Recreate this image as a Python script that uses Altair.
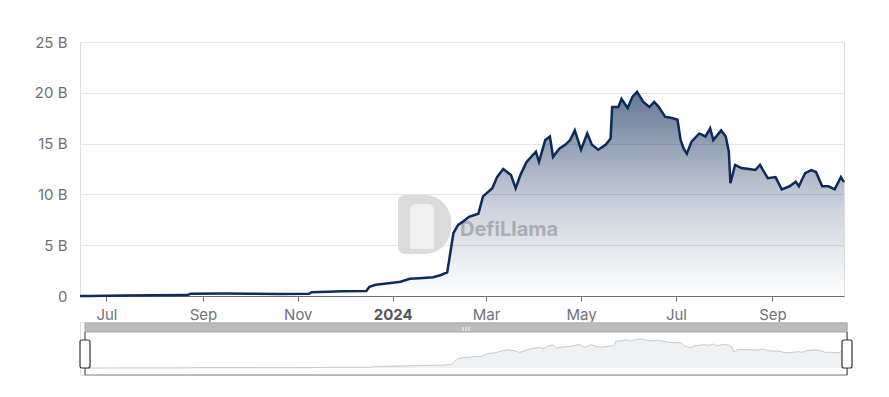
import altair as alt
import pandas as pd

# ---- data (TVL in billions USD) ----
dates = [
    "2023-06-14", "2023-06-20", "2023-07-01", "2023-07-13", "2023-08-01", "2023-08-22",
    "2023-08-24", "2023-09-15", "2023-10-01", "2023-10-20", "2023-11-08", "2023-11-10",
    "2023-11-30", "2023-12-15", "2023-12-17", "2023-12-21", "2024-01-01", "2024-01-06",
    "2024-01-12", "2024-01-18", "2024-01-27", "2024-02-01", "2024-02-05", "2024-02-09",
    "2024-02-12", "2024-02-15", "2024-02-19", "2024-02-22", "2024-02-25", "2024-02-28",
    "2024-03-05", "2024-03-08", "2024-03-12", "2024-03-17", "2024-03-20", "2024-03-23",
    "2024-03-27", "2024-04-02", "2024-04-04", "2024-04-08", "2024-04-11", "2024-04-13",
    "2024-04-17", "2024-04-21", "2024-04-24", "2024-04-27", "2024-05-01", "2024-05-05",
    "2024-05-08", "2024-05-12", "2024-05-17", "2024-05-20", "2024-05-21", "2024-05-25",
    "2024-05-27", "2024-05-31", "2024-06-03", "2024-06-06", "2024-06-10", "2024-06-14",
    "2024-06-17", "2024-06-20", "2024-06-24", "2024-06-29", "2024-07-02", "2024-07-04",
    "2024-07-06", "2024-07-08", "2024-07-11", "2024-07-16", "2024-07-20", "2024-07-23",
    "2024-07-25", "2024-07-30", "2024-08-02", "2024-08-04", "2024-08-05", "2024-08-08",
    "2024-08-12", "2024-08-17", "2024-08-21", "2024-08-24", "2024-08-29", "2024-09-03",
    "2024-09-07", "2024-09-12", "2024-09-16", "2024-09-18", "2024-09-22", "2024-09-26",
    "2024-09-29", "2024-10-03", "2024-10-07", "2024-10-11", "2024-10-13", "2024-10-15",
    "2024-10-17",
]
tvl_b = [
    0.0, 0.01, 0.02, 0.05, 0.07, 0.09,
    0.22, 0.24, 0.22, 0.19, 0.21, 0.38,
    0.46, 0.5, 0.9, 1.1, 1.3, 1.4,
    1.7, 1.75, 1.85, 2.07, 2.33, 6.2,
    7.0, 7.3, 7.8, 7.95, 8.1, 9.8,
    10.6, 11.7, 12.5, 11.9, 10.6, 11.9,
    13.2, 14.2, 13.2, 15.35, 15.7, 13.7,
    14.5, 14.9, 15.35, 16.3, 14.4, 16.0,
    14.9, 14.4, 14.9, 15.5, 18.6, 18.6,
    19.4, 18.5, 19.6, 20.1, 19.1, 18.6,
    19.1, 18.6, 17.65, 17.5, 17.35, 15.35,
    14.5, 14.0, 15.2, 16.0, 15.7, 16.5,
    15.35, 16.3, 15.7, 14.2, 11.1, 12.9,
    12.6, 12.5, 12.4, 12.9, 11.6, 11.7,
    10.5, 10.8, 11.25, 10.8, 12.1, 12.4,
    12.2, 10.8, 10.8, 10.5, 11.1, 11.7,
    11.2,
]
y_ticks = [0, 5, 10, 15, 20, 25]
x_tick_dates = [(2023, 7), (2023, 9), (2023, 11), (2024, 1), (2024, 3), (2024, 5), (2024, 7), (2024, 9)]

df = pd.DataFrame({"date": dates, "tvl": tvl_b})
ends = pd.DataFrame({"date": [dates[0], dates[-1]]})
span = pd.DataFrame({"start": [dates[0]], "end": [dates[-1]]})

x_domain = [alt.DateTime(year=2023, month=6, date=14, utc=True),
            alt.DateTime(year=2024, month=10, date=17, utc=True)]
x_values = [alt.DateTime(year=y, month=m, date=1, utc=True) for y, m in x_tick_dates]

FONT = "Inter"
LABEL_COLOR = "#6e7079"

W, H = 764, 254

x_main = alt.X(
    "date:T",
    scale=alt.Scale(type="utc", domain=x_domain),
    axis=alt.Axis(
        values=x_values,
        labelExpr="utcmonth(datum.value) == 0 ? utcFormat(datum.value, '%Y') : utcFormat(datum.value, '%b')",
        labelFontWeight={"condition": {"test": "utcmonth(datum.value) == 0", "value": "bold"}, "value": "normal"},
        labelColor={"condition": {"test": "utcmonth(datum.value) == 0", "value": "#555555"}, "value": LABEL_COLOR},
        labelFont=FONT,
        labelFontSize=15,
        labelPadding=6,
        tickSize=5,
        tickColor=LABEL_COLOR,
        domainColor=LABEL_COLOR,
        grid=False,
        title=None,
    ),
)
y_main = alt.Y(
    "tvl:Q",
    scale=alt.Scale(domain=[0, 25]),
    axis=alt.Axis(
        values=y_ticks,
        labelExpr="datum.value == 0 ? '0' : datum.value + ' B'",
        labelFont=FONT,
        labelFontSize=15,
        labelColor=LABEL_COLOR,
        labelPadding=13,
        domain=False,
        ticks=False,
        gridColor="#e0e6f1",
        gridWidth=1,
        title=None,
    ),
)

gradient = alt.Gradient(
    gradient="linear",
    stops=[alt.GradientStop(color="rgba(13,42,87,0.64)", offset=0),
           alt.GradientStop(color="rgba(13,42,87,0.22)", offset=0.55),
           alt.GradientStop(color="rgba(13,42,87,0.0)", offset=1)],
    x1=1, x2=1, y1=0, y2=1,
)

base = alt.Chart(df)

wm_logo = alt.Chart(span).mark_rect(
    color="#d5d5d5", opacity=0.85,
    cornerRadiusTopLeft=7, cornerRadiusBottomLeft=7,
    cornerRadiusTopRight=28, cornerRadiusBottomRight=28,
).encode(x=alt.value(318), x2=alt.value(371), y=alt.value(153), y2=alt.value(212))
wm_llama = alt.Chart(span).mark_rect(
    color="#f2f2f2", opacity=0.9, cornerRadiusTopLeft=6, cornerRadiusTopRight=6,
).encode(x=alt.value(330), x2=alt.value(354), y=alt.value(162), y2=alt.value(207))
wm_text = alt.Chart(span).mark_text(
    text="DefiLlama", font=FONT, fontSize=20, fontWeight="bold",
    color="#c6c6c6", align="left", baseline="alphabetic",
).encode(x=alt.value(380), y=alt.value(194))

area = base.mark_area(color=gradient, interpolate="linear").encode(x=x_main, y=y_main)
line = base.mark_line(color="#0c2a5a", strokeWidth=2.5, interpolate="linear").encode(x=x_main, y=y_main)

main = alt.layer(wm_logo, wm_llama, wm_text, area, line).properties(width=W, height=H)

# ---- slider (data zoom) ----
SW, SH = 767, 53
x_sl = alt.X("date:T", scale=alt.Scale(type="utc", domain=x_domain, range=[5, 767]), axis=None)
x_sl_start = alt.X("start:T", scale=alt.Scale(type="utc", domain=x_domain, range=[5, 767]), axis=None)

sl_bar = alt.Chart(span).mark_rect(fill="#bcbcbc", stroke="#a9a9a9", strokeWidth=1).encode(
    x=x_sl_start, x2="end:T", y=alt.value(1), y2=alt.value(10)
)
sl_grip = alt.Chart(pd.DataFrame({"k": [0, 1, 2]})).mark_rule(color="#ffffff", strokeWidth=1).encode(
    x=alt.X("k:Q", scale=alt.Scale(domain=[0, 2], range=[383, 389]), axis=None),
    y=alt.value(5), y2=alt.value(9),
)
sl_area = alt.Chart(df).mark_area(
    color="#eaebee", line={"color": "#c5c8cf", "strokeWidth": 1}
).encode(
    x=x_sl,
    y=alt.Y("tvl:Q", scale=alt.Scale(domain=[-4.83, 31.7], zero=False), axis=None),
    y2=alt.value(SH),
)
sl_bottom = alt.Chart(span).mark_rule(color="#aaaaaa", strokeWidth=1.5).encode(
    x=x_sl_start, x2="end:T", y=alt.value(SH)
)
sl_edges = alt.Chart(ends).mark_rule(color="#333333", strokeWidth=1).encode(
    x=x_sl, y=alt.value(10), y2=alt.value(SH)
)
sl_handles = alt.Chart(ends).mark_rect(
    fill="#ffffff", stroke="#333333", strokeWidth=1.2, cornerRadius=2, xOffset=-5, x2Offset=5
).encode(x=x_sl, x2="date:T", y=alt.value(18), y2=alt.value(46))

slider = alt.layer(sl_bar, sl_area, sl_bottom, sl_edges, sl_handles, sl_grip).resolve_scale(
    x="independent"
).properties(width=SW, height=SH)

chart = alt.vconcat(main, slider, spacing=26, bounds="flush").properties(
    padding={"left": 25, "top": 26, "right": 5, "bottom": 5}
).configure_view(stroke=None).configure(background="#ffffff")

chart.save("out.html", embed_options={"renderer": "svg", "actions": False})
